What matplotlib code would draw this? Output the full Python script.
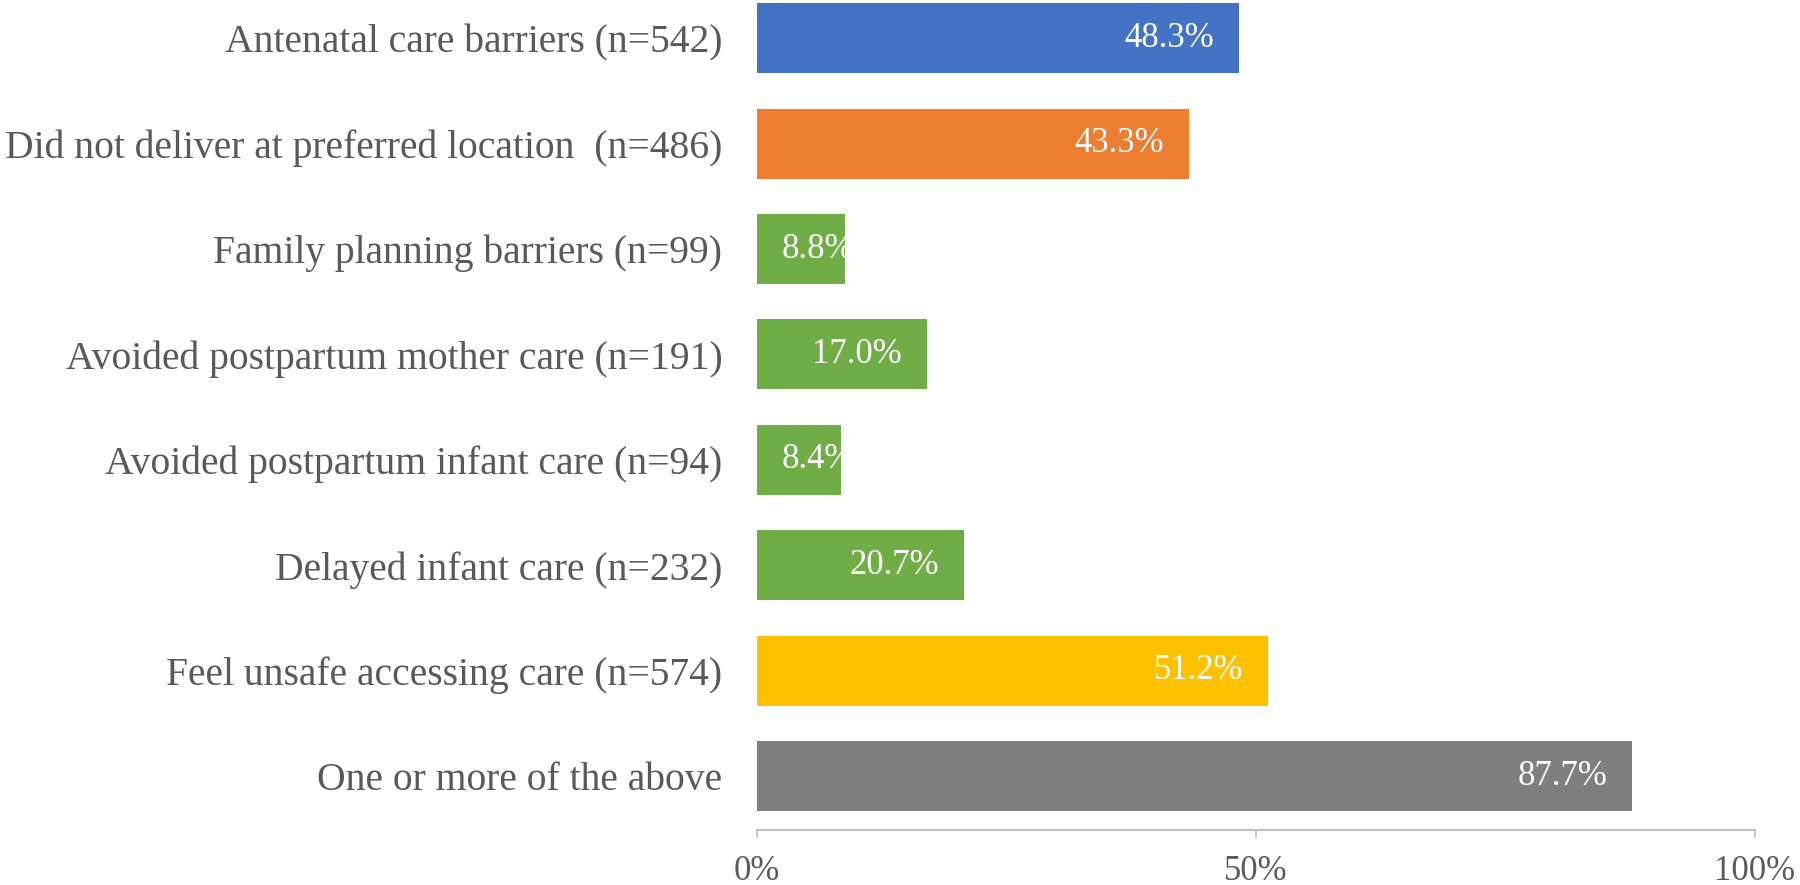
import matplotlib.pyplot as plt
from matplotlib.ticker import FuncFormatter

# data
categories = [
    'Antenatal care barriers (n=542)',
    'Did not deliver at preferred location  (n=486)',
    'Family planning barriers (n=99)',
    'Avoided postpartum mother care (n=191)',
    'Avoided postpartum infant care (n=94)',
    'Delayed infant care (n=232)',
    'Feel unsafe accessing care (n=574)',
    'One or more of the above',
]
percent = [48.3, 43.3, 8.8, 17.0, 8.4, 20.7, 51.2, 87.7]
colors = ['#4472C4', '#ED7D31', '#70AD47', '#70AD47', '#70AD47', '#70AD47',
          '#FFC000', '#7F7F7F']
xticks = [0, 50, 100]

plt.rcParams['font.family'] = ['Liberation Serif', 'DejaVu Serif']

fig = plt.figure(figsize=(18, 8.85), dpi=100)
ax = fig.add_axes([757 / 1800, 1 - 830 / 885, (1755 - 757) / 1800, 830 / 885])

ypos = list(range(len(categories)))
bars = ax.barh(ypos, percent, height=0.664, color=colors)

# value labels, inside the end of the bar, clipped by the bar
for b, v in zip(bars, percent):
    if v > 15:
        t = ax.text(v - 2.5, b.get_y() + b.get_height() / 2, f'{v:.1f}%',
                    ha='right', va='center', color='white', fontsize=25)
    else:
        t = ax.text(2.5, b.get_y() + b.get_height() / 2, f'{v:.1f}%',
                    ha='left', va='center', color='white', fontsize=25)
    t.set_clip_path(b)

ax.set_xlim(0, 100)
ax.set_ylim(7.512, -0.363)
ax.set_xticks(xticks)
ax.xaxis.set_major_formatter(FuncFormatter(lambda x, p: f'{x:.0f}%'))
ax.set_yticks(ypos)
ax.set_yticklabels(categories)

for s in ['top', 'right', 'left']:
    ax.spines[s].set_visible(False)
ax.spines['bottom'].set_color('#BFBFBF')
ax.spines['bottom'].set_linewidth(1.5)
ax.tick_params(axis='x', direction='out', length=6, width=1.2, color='#BFBFBF',
               labelsize=25, labelcolor='#595959', pad=12)
ax.tick_params(axis='y', length=0, labelsize=28.5, labelcolor='#595959', pad=25)

fig.savefig('out.png', dpi=100)
